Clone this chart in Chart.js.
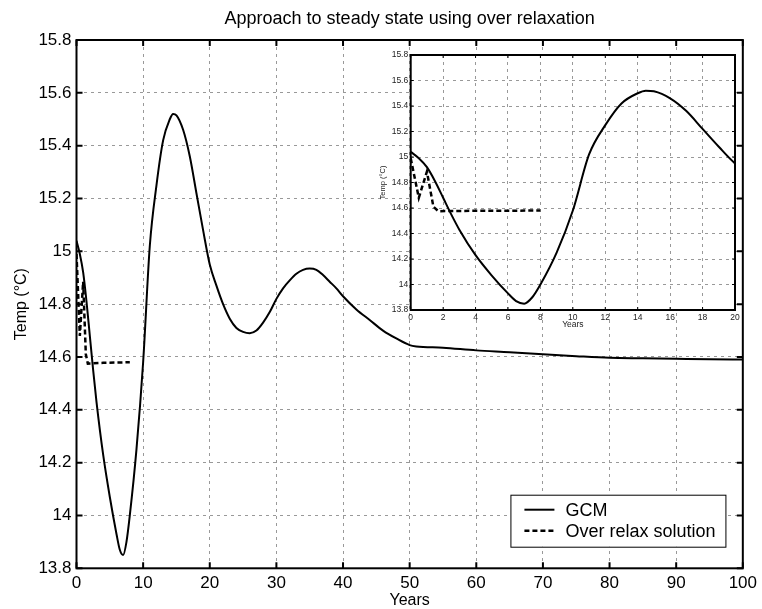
<!DOCTYPE html>
<html lang="en">
<head>
  <meta charset="UTF-8" />
  <title>Approach to steady state</title>
  <style>
    body { margin: 0; background: #fff; }
    #wrap { position: relative; width: 762px; height: 609px; }
    #inset { position: absolute; left: 375px; top: 45px; }
  </style>
</head>
<body>
<div id="wrap">
  <canvas id="main" width="762" height="609"></canvas>
  <canvas id="inset" width="380" height="285"></canvas>
</div>
<script src="https://cdn.jsdelivr.net/npm/chart.js"></script>
<script type="text/javascript">
  // GCM run
  const gcmYears = [0, 0.5, 1, 1.5, 2, 2.5, 3, 4, 5, 6, 6.5, 7, 7.5, 8, 9, 10, 11, 12, 13, 14, 14.5, 15, 16, 17, 18, 19, 20,
    21, 22, 23, 24, 25, 26, 27, 28, 29, 30, 31, 32, 33, 34, 35, 36, 37, 38, 39, 40,
    42, 44, 46, 48, 50, 51, 55, 60, 65, 70, 75, 80, 85, 90, 95, 100];
  const gcmTemp = [15.04, 14.99, 14.92, 14.81, 14.68, 14.55, 14.43, 14.23, 14.07, 13.93, 13.87, 13.85, 13.9, 14.0, 14.25, 14.58, 15.02, 15.25, 15.42, 15.5, 15.52, 15.515, 15.46, 15.36, 15.22, 15.08, 14.95,
    14.87, 14.8, 14.745, 14.71, 14.695, 14.69, 14.7, 14.73, 14.77, 14.82, 14.86, 14.89, 14.915, 14.93, 14.935, 14.93, 14.91, 14.885, 14.86, 14.83,
    14.78, 14.74, 14.7, 14.67, 14.645, 14.64, 14.635, 14.625, 14.618, 14.61, 14.603, 14.597, 14.595, 14.593, 14.591, 14.59];

  // over relaxation solution
  const relaxYears = [0, 0.5, 1, 1.4, 1.7, 2.5, 4, 6, 8];
  const relaxTemp = [14.99, 14.68, 14.885, 14.61, 14.575, 14.576, 14.578, 14.579, 14.58];

  const seriesLabels = ['GCM', 'Over relax solution'];
  const chartTitle = 'Approach to steady state using over relaxation';
  const xTitle = 'Years';
  const yTitle = 'Temp (\u00B0C)';

  const FONT = "'Liberation Sans', Arial, Helvetica, sans-serif";

  function points(xs, ys) {
    return xs.map((x, i) => ({x: x, y: ys[i]}));
  }

  // matlab style labels: 15 not 15.0
  function tickLabel(v) {
    return String(Math.round(v * 10) / 10);
  }

  function makeDatasets(dash, width) {
    return [
      {
        label: seriesLabels[0],
        data: points(gcmYears, gcmTemp),
        borderColor: '#000',
        borderWidth: 2,
        pointRadius: 0,
        cubicInterpolationMode: 'monotone'
      },
      {
        label: seriesLabels[1],
        data: points(relaxYears, relaxTemp),
        borderColor: '#000',
        borderWidth: width,
        borderDash: dash,
        pointRadius: 0,
        tension: 0
      }
    ];
  }

  // axes box with inward ticks, like matlab
  const boxPlugin = {
    id: 'box',
    beforeDraw(chart, args, opts) {
      if (!opts.fill) return;
      const {ctx, chartArea: a} = chart;
      ctx.save();
      ctx.fillStyle = opts.fill;
      ctx.fillRect(a.left, a.top, a.right - a.left, a.bottom - a.top);
      ctx.restore();
    },
    afterDraw(chart, args, opts) {
      const {ctx, chartArea: a, scales} = chart;
      const L = opts.tick;
      ctx.save();
      ctx.strokeStyle = '#000';
      ctx.lineWidth = opts.tickWidth;
      ctx.beginPath();
      scales.x.ticks.forEach(t => {
        const px = scales.x.getPixelForValue(t.value);
        ctx.moveTo(px, a.bottom); ctx.lineTo(px, a.bottom - L);
        ctx.moveTo(px, a.top); ctx.lineTo(px, a.top + L);
      });
      scales.y.ticks.forEach(t => {
        const py = scales.y.getPixelForValue(t.value);
        ctx.moveTo(a.left, py); ctx.lineTo(a.left + L, py);
        ctx.moveTo(a.right, py); ctx.lineTo(a.right - L, py);
      });
      ctx.stroke();
      ctx.lineWidth = opts.width;
      ctx.strokeRect(a.left, a.top, a.right - a.left, a.bottom - a.top);
      ctx.restore();
    }
  };

  // legend drawn inside the plot, bottom right
  const insideLegend = {
    id: 'insideLegend',
    afterDraw(chart, args, opts) {
      if (!opts.show) return;
      const {ctx, chartArea: a} = chart;
      const w = opts.w, h = opts.h;
      const left = a.right - opts.right - w;
      const top = a.bottom - opts.bottom - h;
      ctx.save();
      ctx.fillStyle = '#fff';
      ctx.fillRect(left, top, w, h);
      ctx.strokeStyle = '#000';
      ctx.lineWidth = 1;
      ctx.strokeRect(left + 0.5, top + 0.5, w, h);
      ctx.font = '18px ' + FONT;
      ctx.textBaseline = 'middle';
      chart.data.datasets.forEach((ds, i) => {
        const y = top + 15 + i * 21;
        ctx.beginPath();
        ctx.lineWidth = ds.borderWidth;
        ctx.setLineDash(ds.borderDash || []);
        ctx.moveTo(left + 14, y);
        ctx.lineTo(left + 44, y);
        ctx.stroke();
        ctx.setLineDash([]);
        ctx.fillStyle = '#000';
        ctx.fillText(ds.label, left + 55, y + 1);
      });
      ctx.restore();
    }
  };

  Chart.register(boxPlugin, insideLegend);

  // main plot
  new Chart(document.getElementById('main'), {
    type: 'line',
    data: { datasets: makeDatasets([5, 3], 2.5) },
    options: {
      responsive: false,
      animation: false,
      layout: { padding: { left: 0, right: 16.3, top: 0, bottom: 0 } },
      plugins: {
        legend: { display: false },
        tooltip: { enabled: false },
        title: {
          display: true,
          fullSize: false,
          text: chartTitle,
          color: '#000',
          font: { family: FONT, size: 18, weight: 'normal' },
          padding: { top: 8.5, bottom: 9.9 }
        },
        box: { tick: 6, tickWidth: 2, width: 2 },
        insideLegend: { show: true, w: 215, h: 52, right: 17.4, bottom: 21.6 }
      },
      scales: {
        x: {
          type: 'linear', min: 0, max: 100,
          afterFit(s) { s.height = 40.7; },
          ticks: { stepSize: 10, autoSkip: false, maxRotation: 0, padding: 5, color: '#000', font: { family: FONT, size: 17 }, callback: tickLabel },
          grid: { color: '#999', lineWidth: 1, drawTicks: false },
          border: { display: false, dash: [3, 4] },
          title: { display: true, text: xTitle, color: '#000', font: { family: FONT, size: 16 }, padding: { top: 0, bottom: -1 } }
        },
        y: {
          type: 'linear', min: 13.8, max: 15.8,
          afterFit(s) { s.width = 76.5; },
          ticks: { stepSize: 0.2, autoSkip: false, padding: 5, color: '#000', font: { family: FONT, size: 17 }, callback: tickLabel },
          grid: { color: '#999', lineWidth: 1, drawTicks: false },
          border: { display: false, dash: [3, 4] },
          title: { display: true, text: yTitle, color: '#000', font: { family: FONT, size: 16 }, padding: { top: 12, bottom: 0 } }
        }
      }
    }
  });

  // inset: first 20 years
  new Chart(document.getElementById('inset'), {
    type: 'line',
    data: { datasets: makeDatasets([5, 3], 2.5) },
    options: {
      responsive: false,
      animation: false,
      layout: { padding: { left: 0, right: 20, top: 10, bottom: 0 } },
      plugins: {
        legend: { display: false },
        tooltip: { enabled: false },
        title: { display: false },
        box: { tick: 3, tickWidth: 1, width: 2, fill: '#fff' },
        insideLegend: { show: false }
      },
      scales: {
        x: {
          type: 'linear', min: 0, max: 20,
          afterFit(s) { s.height = 20; },
          ticks: { stepSize: 2, autoSkip: false, maxRotation: 0, padding: 3, color: '#222', font: { family: FONT, size: 8.5 }, callback: tickLabel },
          grid: { color: '#999', lineWidth: 1, drawTicks: false },
          border: { display: false, dash: [3, 4] },
          title: { display: true, text: xTitle, color: '#222', font: { family: FONT, size: 8.5 }, padding: { top: 0, bottom: 0 } }
        },
        y: {
          type: 'linear', min: 13.8, max: 15.8,
          afterFit(s) { s.width = 35.7; },
          ticks: { stepSize: 0.2, autoSkip: false, padding: 2.5, color: '#222', font: { family: FONT, size: 8.5 }, callback: tickLabel },
          grid: { color: '#999', lineWidth: 1, drawTicks: false },
          border: { display: false, dash: [3, 4] },
          title: { display: true, text: yTitle, color: '#222', font: { family: FONT, size: 7.5 }, padding: { top: 3.5, bottom: 0 } }
        }
      }
    }
  });
</script>
</body>
</html>
